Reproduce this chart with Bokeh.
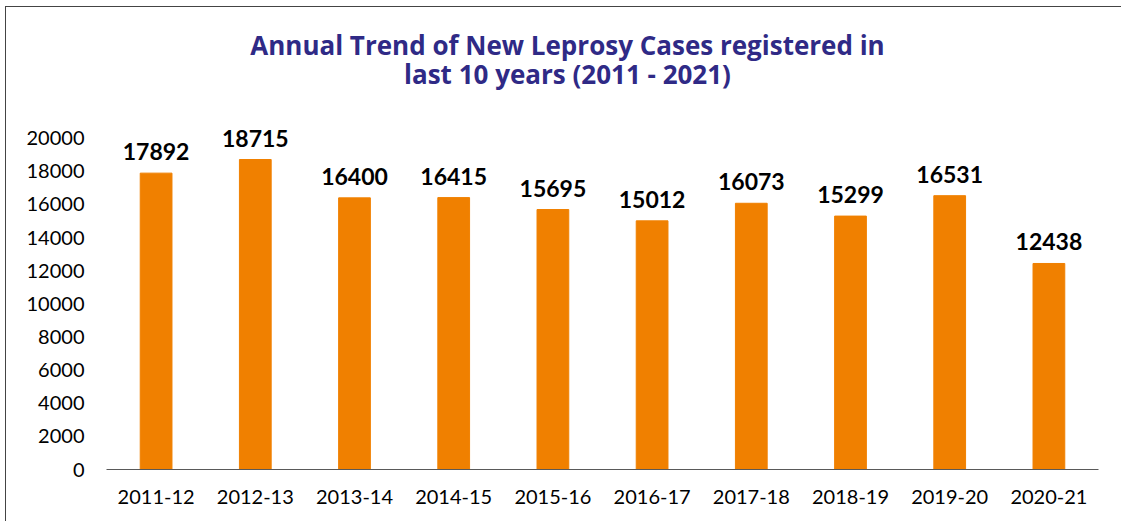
from bokeh.plotting import figure
from bokeh.models import ColumnDataSource, FactorRange, Range1d, FixedTicker, Label
from bokeh.core.properties import value
from bokeh.embed import file_html
from bokeh.resources import INLINE

years = ["2011-12", "2012-13", "2013-14", "2014-15", "2015-16",
         "2016-17", "2017-18", "2018-19", "2019-20", "2020-21"]
cases = [17892, 18715, 16400, 16415, 15695, 15012, 16073, 15299, 16531, 12438]
y_ticks = [0, 2000, 4000, 6000, 8000, 10000, 12000, 14000, 16000, 18000, 20000]
title_lines = ["Annual Trend of New Leprosy Cases registered in",
               "last 10 years (2011 - 2021)"]

source = ColumnDataSource(dict(x=years, top=cases, lab=[str(v) for v in cases]))

p = figure(width=1116, height=515, output_backend="svg", toolbar_location=None,
           x_range=FactorRange(*years), y_range=Range1d(0, 27409),
           min_border_left=100, min_border_right=24, min_border_top=8,
           min_border_bottom=53)
p.styles = {"margin-top": "6px", "margin-left": "5px",
            "border-top": "1px solid #444444", "border-left": "1px solid #444444"}
p.outline_line_color = None
p.xgrid.grid_line_color = None
p.ygrid.grid_line_color = None

p.vbar(x="x", top="top", width=0.32, source=source, color="#F08000")
p.text(x="x", y="top", text="lab", source=source, y_offset=-13,
       text_align="center", text_baseline="bottom",
       text_font=value("Lato"), text_font_style="bold",
       text_font_size="23px", text_color="#000000")

# axes
p.yaxis.ticker = FixedTicker(ticks=y_ticks)
p.yaxis.axis_line_color = None
p.yaxis.major_tick_line_color = None
p.yaxis.minor_tick_line_color = None
p.yaxis.major_tick_out = 0
p.yaxis.major_tick_in = 0
p.yaxis.major_label_standoff = 22
p.xaxis.axis_line_color = "#595959"
p.xaxis.axis_line_width = 1
p.xaxis.major_tick_line_color = None
p.xaxis.minor_tick_line_color = None
p.xaxis.major_tick_out = 0
p.xaxis.major_tick_in = 0
p.xaxis.major_label_standoff = 20
for ax in (p.xaxis, p.yaxis):
    ax.major_label_text_font = "Lato"
    ax.major_label_text_font_size = "20px"
    ax.major_label_text_color = "#000000"

# title (two centred lines at the top of the chart)
for line, yv in zip(title_lines, [25658, 23907]):
    p.add_layout(Label(x=4.647, y=yv, text=line, text_align="center",
                       text_baseline="alphabetic",
                       text_font="Open Sans", text_font_style="bold",
                       text_font_size="26px",
                       text_color="#2f2a86"))

open("out.html", "w").write(file_html(p, INLINE))
